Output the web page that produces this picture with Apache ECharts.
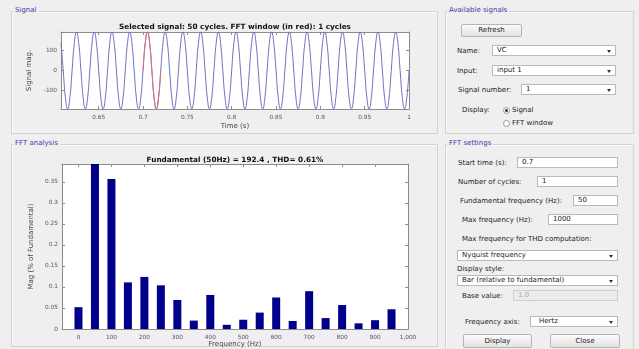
<!DOCTYPE html>
<html>
<head>
<meta charset="utf-8">
<script src="https://cdn.jsdelivr.net/npm/echarts@6/dist/echarts.min.js"></script>
<style>
  html,body{margin:0;padding:0;}
  body{width:639px;height:349px;background:#efefef;position:relative;overflow:hidden;font-family:"DejaVu Sans",sans-serif;font-size:7px;color:#222;}
  .panel{position:absolute;border:1px solid #d2d2d2;box-shadow:inset 1px 1px 0 #fafafa;}
  .ptitle{position:absolute;background:#efefef;color:#3b3ba8;font-size:7px;padding:0 2px;line-height:9px;}
  .lbl{position:absolute;line-height:10px;white-space:nowrap;}
  .box{position:absolute;background:#fff;border:1px solid #b9b9b9;box-sizing:border-box;line-height:9px;padding-left:4px;white-space:nowrap;}
  .dd::after{content:"";position:absolute;right:4px;top:4px;border-left:2px solid transparent;border-right:2px solid transparent;border-top:3px solid #333;}
  .btn{position:absolute;box-sizing:border-box;border:1px solid #b5b5b5;border-radius:2px;background:linear-gradient(#fbfbfb,#e2e2e2);text-align:center;white-space:nowrap;}
  .radio{position:absolute;width:5px;height:5px;border:1px solid #9a9a9a;border-radius:50%;background:#fff;}
  .radio.on::after{content:"";position:absolute;left:1px;top:1px;width:3px;height:3px;border-radius:50%;background:#333;}
  #chart{position:absolute;left:0;top:0;width:440px;height:349px;}
</style>
</head>
<body>
<div class="panel" style="left:11px;top:11px;width:425px;height:121px;"></div>
<div class="ptitle" style="left:13px;top:6px;">Signal</div>
<div class="panel" style="left:11px;top:144px;width:425px;height:201px;"></div>
<div class="ptitle" style="left:13px;top:139px;">FFT analysis</div>

<div class="panel" style="left:445px;top:11px;width:187px;height:121px;"></div>
<div class="ptitle" style="left:447px;top:6px;">Available signals</div>
<div class="btn" style="left:461px;top:24px;width:61px;height:13px;line-height:11px;">Refresh</div>
<div class="lbl" style="left:457px;top:46px;">Name:</div>
<div class="box dd" style="left:492px;top:45px;width:124px;height:11px;">VC</div>
<div class="lbl" style="left:457px;top:66px;">Input:</div>
<div class="box dd" style="left:492px;top:65px;width:124px;height:11px;">input 1</div>
<div class="lbl" style="left:458px;top:85px;">Signal number:</div>
<div class="box dd" style="left:521px;top:84px;width:95px;height:11px;">1</div>
<div class="lbl" style="left:462px;top:105px;">Display:</div>
<div class="radio on" style="left:503px;top:107px;"></div>
<div class="lbl" style="left:512px;top:105px;">Signal</div>
<div class="radio" style="left:503px;top:120px;"></div>
<div class="lbl" style="left:512px;top:118px;">FFT window</div>

<div class="panel" style="left:445px;top:144px;width:187px;height:204px;"></div>
<div class="ptitle" style="left:447px;top:139px;">FFT settings</div>
<div class="lbl" style="left:458px;top:158px;">Start time (s):</div>
<div class="box" style="left:517px;top:157px;width:101px;height:11px;">0.7</div>
<div class="lbl" style="left:458px;top:177px;">Number of cycles:</div>
<div class="box" style="left:537px;top:176px;width:81px;height:11px;">1</div>
<div class="lbl" style="left:460px;top:196px;">Fundamental frequency (Hz):</div>
<div class="box" style="left:573px;top:195px;width:45px;height:11px;">50</div>
<div class="lbl" style="left:462px;top:215px;">Max frequency (Hz):</div>
<div class="box" style="left:548px;top:214px;width:70px;height:11px;">1000</div>
<div class="lbl" style="left:462px;top:234px;">Max frequency for THD computation:</div>
<div class="box dd" style="left:457px;top:250px;width:161px;height:11px;">Nyquist frequency</div>
<div class="lbl" style="left:457px;top:264px;">Display style:</div>
<div class="box dd" style="left:457px;top:275px;width:161px;height:11px;">Bar (relative to fundamental)</div>
<div class="lbl" style="left:462px;top:291px;">Base value:</div>
<div class="box" style="left:513px;top:290px;width:105px;height:11px;background:#ececec;border-color:#cfcfcf;color:#aaa;">1.0</div>
<div class="lbl" style="left:465px;top:317px;">Frequency axis:</div>
<div class="box dd" style="left:530px;top:316px;width:88px;height:11px;padding-left:8px;">Hertz</div>
<div class="btn" style="left:463px;top:334px;width:69px;height:14px;line-height:12px;">Display</div>
<div class="btn" style="left:550px;top:334px;width:70px;height:14px;line-height:12px;">Close</div>

<div id="chart"></div>
<script>
// ---- data ----
const signalStart = 0.6075;   // s, first sample time shown
const signalStep = 0.0025;    // s, sample spacing
const signalValues = [
  136,0,-136,-192,-136,0,136,192,
  136,0,-136,-192,-136,0,136,192,
  136,0,-136,-192,-136,0,136,192,
  136,0,-136,-192,-136,0,136,192,
  136,0,-136,-192,-136,0,136,192,
  136,0,-136,-192,-136,0,136,192,
  136,0,-136,-192,-136,0,136,192,
  136,0,-136,-192,-136,0,136,192,
  136,0,-136,-192,-136,0,136,192,
  136,0,-136,-192,-136,0,136,192,
  136,0,-136,-192,-136,0,136,192,
  136,0,-136,-192,-136,0,136,192,
  136,0,-136,-192,-136,0,136,192,
  136,0,-136,-192,-136,0,136,192,
  136,0,-136,-192,-136,0,136,192,
  136,0,-136,-192,-136,0,136,192,
  136,0,-136,-192,-136,0,136,192,
  136,0,-136,-192,-136,0,136,192,
  136,0,-136,-192,-136,0,136,192,
  136,0,-136,-192,-136,0
];
const fftWindow = [0.7, 0.72];
const timeTicks = [0.65, 0.7, 0.75, 0.8, 0.85, 0.9, 0.95, 1];
const signalTicks = [-100, 0, 100];

const harmonicFreqs = [0,50,100,150,200,250,300,350,400,450,500,550,600,650,700,750,800,850,900,950];
const harmonicMags  = [0.052,100,0.357,0.111,0.124,0.104,0.069,0.020,0.081,0.010,0.022,0.039,0.075,0.019,0.090,0.026,0.057,0.0135,0.021,0.047];
const freqTicks = [0,100,200,300,400,500,600,700,800,900,1000];
const magTicks = [0,0.05,0.1,0.15,0.2,0.25,0.3,0.35];

// ---- build series ----
const signalData = signalValues.map((v, i) => [signalStart + i * signalStep, v]);
const windowData = signalData.filter(p => p[0] >= fftWindow[0] - 1e-9 && p[0] <= fftWindow[1] + 1e-9);
const barData = harmonicFreqs.map((f, i) => [f, harmonicMags[i]]);

const AX = '#8c8c8c';
const FONT = 'DejaVu Sans';
function xAx(grid, min, max, ticks, pos, name, gap) {
  const main = pos === 'bottom';
  return {
    type: 'value', gridIndex: grid, min: min, max: max, position: pos,
    axisLine: {show: true, onZero: false, lineStyle: {color: AX, width: 1}},
    axisTick: {show: true, inside: true, length: 3, customValues: ticks, lineStyle: {color: AX}},
    axisLabel: {show: main, customValues: ticks, margin: 5, color: '#555', fontSize: 5.8, fontFamily: FONT},
    splitLine: {show: false},
    name: main ? name : '', nameLocation: 'middle', nameGap: gap,
    nameTextStyle: {color: '#444', fontSize: 7, fontFamily: FONT}
  };
}
function yAx(grid, min, max, ticks, pos, name, gap) {
  const main = pos === 'left';
  return {
    type: 'value', gridIndex: grid, min: min, max: max, position: pos,
    axisLine: {show: true, onZero: false, lineStyle: {color: AX, width: 1}},
    axisTick: {show: true, inside: true, length: 3, customValues: ticks, lineStyle: {color: AX}},
    axisLabel: {show: main, customValues: ticks, margin: 4, color: '#555', fontSize: 5.8, fontFamily: FONT},
    splitLine: {show: false},
    name: main ? name : '', nameLocation: 'middle', nameGap: gap, nameRotate: 90,
    nameTextStyle: {color: '#444', fontSize: 7, fontFamily: FONT}
  };
}

const chart = echarts.init(document.getElementById('chart'), null, {renderer: 'canvas'});
chart.setOption({
  animation: false,
  backgroundColor: 'transparent',
  grid: [
    {left: 61, top: 32, width: 348, height: 77, backgroundColor: '#fff', show: true, borderWidth: 0},
    {left: 62, top: 164, width: 346, height: 165, backgroundColor: '#fff', show: true, borderWidth: 0}
  ],
  xAxis: [
    xAx(0, signalStart, 1, timeTicks, 'bottom', 'Time (s)', 14),
    xAx(0, signalStart, 1, timeTicks, 'top', '', 0),
    xAx(1, -50, 1000, freqTicks, 'bottom', 'Frequency (Hz)', 11),
    xAx(1, -50, 1000, freqTicks, 'top', '', 0)
  ],
  yAxis: [
    yAx(0, -192.4, 192.4, signalTicks, 'left', 'Signal mag.', 20),
    yAx(0, -192.4, 192.4, signalTicks, 'right', '', 0),
    yAx(1, 0, 0.3927, magTicks, 'left', 'Mag (% of Fundamental)', 19),
    yAx(1, 0, 0.3927, magTicks, 'right', '', 0)
  ],
  graphic: [
    {type: 'text', x: 235, y: 27, style: {text: 'Selected signal: 50 cycles. FFT window (in red): 1 cycles', fontFamily: FONT, fontWeight: 'bold', fontSize: 7.3, fill: '#111', align: 'center', verticalAlign: 'middle'}},
    {type: 'text', x: 235, y: 160, style: {text: 'Fundamental (50Hz) = 192.4 , THD= 0.61%', fontFamily: FONT, fontWeight: 'bold', fontSize: 7.3, fill: '#111', align: 'center', verticalAlign: 'middle'}}
  ],
  series: [
    {type: 'line', xAxisIndex: 0, yAxisIndex: 0, data: signalData, smooth: true, symbol: 'none',
     lineStyle: {color: '#6f6fc2', width: 1}, clip: true, z: 2},
    {type: 'line', xAxisIndex: 0, yAxisIndex: 0, data: windowData, smooth: true, symbol: 'none',
     lineStyle: {color: '#e07272', width: 1}, clip: true, z: 3},
    {type: 'bar', xAxisIndex: 2, yAxisIndex: 2, data: barData, barWidth: 8, clip: true,
     itemStyle: {color: '#00008c'}}
  ]
});
</script>
</body>
</html>
